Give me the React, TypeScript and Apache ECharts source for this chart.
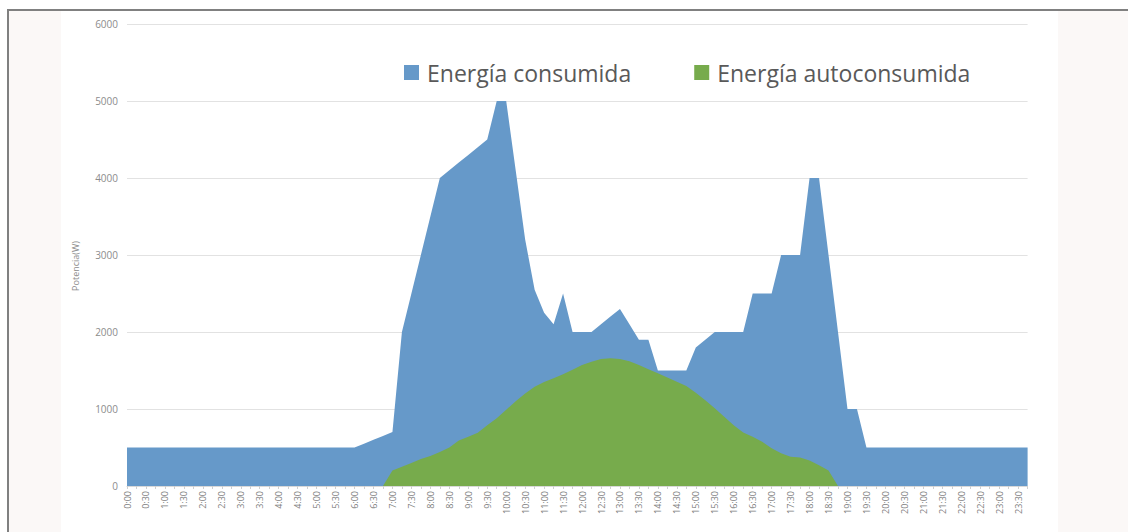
import React, { useEffect, useRef } from "react";
import * as echarts from "echarts";

// 15-minute categories, 0:00 .. 23:45
const categories: string[] = [];
for (let h = 0; h < 24; h++) {
  for (const m of ["00", "15", "30", "45"]) categories.push(`${h}:${m}`);
}

const yTicks = [0, 1000, 2000, 3000, 4000, 5000, 6000];

// Energía consumida (W), one value per 15 min
const consumida = [
  500, 500, 500, 500, 500, 500, 500, 500, // 0:00-1:45
  500, 500, 500, 500, 500, 500, 500, 500, // 2:00-3:45
  500, 500, 500, 500, 500, 500, 500, 500, // 4:00-5:45
  500, 550, 600, 650, 700, 2000, 2500, 3000, // 6:00-7:45
  3500, 4000, 4100, 4200, 4300, 4400, 4500, 5000, // 8:00-9:45
  5000, 4100, 3200, 2550, 2250, 2100, 2500, 2000, // 10:00-11:45
  2000, 2000, 2100, 2200, 2300, 2100, 1900, 1900, // 12:00-13:45
  1500, 1500, 1500, 1500, 1800, 1900, 2000, 2000, // 14:00-15:45
  2000, 2000, 2500, 2500, 2500, 3000, 3000, 3000, // 16:00-17:45
  4000, 4000, 3000, 2000, 1000, 1000, 500, 500, // 18:00-19:45
  500, 500, 500, 500, 500, 500, 500, 500, // 20:00-21:45
  500, 500, 500, 500, 500, 500, 500, 500, // 22:00-23:45
];

// Energía autoconsumida (W), one value per 15 min
const autoconsumida = [
  0, 0, 0, 0, 0, 0, 0, 0, // 0:00-1:45
  0, 0, 0, 0, 0, 0, 0, 0, // 2:00-3:45
  0, 0, 0, 0, 0, 0, 0, 0, // 4:00-5:45
  0, 0, 0, 0, 200, 250, 300, 350, // 6:00-7:45
  390, 440, 500, 590, 640, 690, 790, 880, // 8:00-9:45
  990, 1100, 1200, 1290, 1350, 1400, 1450, 1510, // 10:00-11:45
  1570, 1615, 1650, 1660, 1650, 1620, 1570, 1515, // 12:00-13:45
  1465, 1410, 1355, 1300, 1210, 1115, 1010, 900, // 14:00-15:45
  790, 695, 640, 575, 490, 425, 380, 370, // 16:00-17:45
  330, 270, 200, 0, 0, 0, 0, 0, // 18:00-19:45
  0, 0, 0, 0, 0, 0, 0, 0, // 20:00-21:45
  0, 0, 0, 0, 0, 0, 0, 0, // 22:00-23:45
];

const BLUE = "#6699c9";
const GREEN = "#77ab4c";
const FONT = "'Open Sans', 'Noto Sans', sans-serif";

export default function App() {
  const ref = useRef<HTMLDivElement>(null);

  useEffect(() => {
    const chart = echarts.init(ref.current!, null, { renderer: "svg" });
    chart.setOption({
      animation: false,
      backgroundColor: "#ffffff",
      graphic: [
        {
          type: "rect",
          z: -10,
          silent: true,
          shape: { x: 8, y: 10, width: 1140, height: 540 },
          style: { fill: "#fbf8f7", stroke: "#808080", lineWidth: 2 },
        },
        {
          type: "rect",
          z: -9,
          silent: true,
          shape: { x: 61, y: 11, width: 997, height: 530 },
          style: { fill: "#ffffff" },
        },
        {
          type: "text",
          x: 75,
          y: 266,
          rotation: Math.PI / 2,
          silent: true,
          style: {
            text: "Potencia(W)",
            fill: "#8c8c8c",
            font: `9px ${FONT}`,
            align: "center",
            verticalAlign: "middle",
          },
        },
      ],
      legend: {
        left: 404,
        top: 61,
        padding: 0,
        icon: "rect",
        itemWidth: 15,
        itemHeight: 15,
        itemGap: 63,
        textStyle: {
          fontSize: 23,
          color: "#595959",
          fontFamily: FONT,
          padding: [0, 0, 0, 3],
        },
        data: ["Energía consumida", "Energía autoconsumida"],
      },
      grid: { left: 127, right: 100.4, top: 24, bottom: 46 },
      xAxis: {
        type: "category",
        boundaryGap: false,
        data: categories,
        axisLine: { show: true, lineStyle: { color: "#d9d9d9" } },
        axisTick: { show: true, interval: 0, length: 3, lineStyle: { color: "#d0d0d0" } },
        axisLabel: {
          interval: 1,
          rotate: 90,
          fontSize: 9,
          color: "#7f7f7f",
          fontFamily: FONT,
          margin: 5,
        },
        splitLine: { show: false },
      },
      yAxis: {
        type: "value",
        min: yTicks[0],
        max: yTicks[yTicks.length - 1],
        interval: 1000,
        axisLine: { show: false },
        axisTick: { show: false },
        axisLabel: {
          fontSize: 10,
          color: "#8c8c8c",
          fontFamily: FONT,
          margin: 9,
          formatter: (v: number) => String(v),
        },
        splitLine: { lineStyle: { color: "#e2e2e2", width: 1 } },
      },
      series: [
        {
          name: "Energía consumida",
          type: "line",
          data: consumida,
          symbol: "none",
          lineStyle: { width: 0 },
          itemStyle: { color: BLUE },
          areaStyle: { color: BLUE, opacity: 1 },
          z: 2,
        },
        {
          name: "Energía autoconsumida",
          type: "line",
          data: autoconsumida,
          symbol: "none",
          lineStyle: { width: 0 },
          itemStyle: { color: GREEN },
          areaStyle: { color: GREEN, opacity: 1 },
          z: 3,
        },
      ],
    });
    return () => chart.dispose();
  }, []);

  return (
    <div
      ref={ref}
      style={{ position: "fixed", left: 0, top: 0, width: 1128, height: 532 }}
    />
  );
}
